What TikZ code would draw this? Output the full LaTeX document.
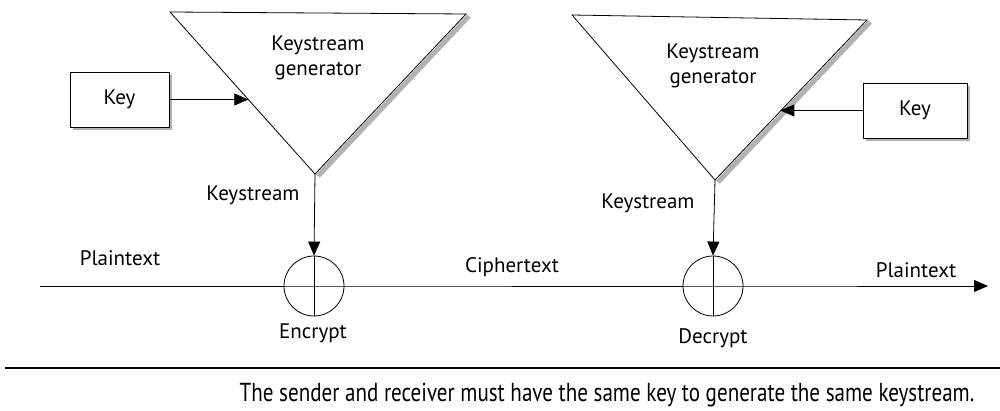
\documentclass[tikz,border=0pt]{standalone}
\usepackage{fontspec}
\setmainfont{PT Sans}
\usetikzlibrary{arrows.meta,calc}

\begin{document}
\begin{tikzpicture}[x=0.5pt,y=-0.5pt,font=\fontsize{10.5}{12.5}\selectfont,
    >={Triangle[length=7pt,width=6pt]}]
  \useasboundingbox (0,0) rectangle (1000,411);
  % sender side
  \coordinate (gl1) at (170,12);
  \coordinate (gr1) at (466,14);
  \coordinate (ga1) at (315,174);
  \draw[gray!60,line width=2.5pt] ($(gr1)+(3,2)$) -- ($(ga1)+(3,2)$);
  \draw (gl1) -- (gr1) -- (ga1) -- cycle;
  \node[align=center] (gen1) at (318,58) {Keystream\\generator};
  \fill[gray!60] (73,127) rectangle (172,130);
  \fill[gray!60] (169,75) rectangle (172,130);
  \node[draw,fill=white,minimum width=49.5pt,minimum height=27.5pt] (key1) at (119.5,99.5) {Key};
  \coordinate (e1) at ($(gl1)!0.54!(ga1)$);
  \draw[->] (key1.east) -- (key1.east -| e1);
  \node[draw,circle,minimum size=30pt,inner sep=0pt] (enc) at (314,286) {};
  \draw[->] (ga1) -- (enc.north);
  \node (ks1) at (253,195) {Keystream};
  \node (enclab) at (313,333) {Encrypt};
  % receiver side
  \coordinate (gl2) at (572,15);
  \coordinate (gr2) at (867,20);
  \coordinate (ga2) at (715,180);
  \draw[gray!60,line width=2.5pt] ($(gr2)+(3,2)$) -- ($(ga2)+(3,2)$);
  \draw (gl2) -- (gr2) -- (ga2) -- cycle;
  \node[align=center] (gen2) at (713,66) {Keystream\\generator};
  \fill[gray!60] (866,138) rectangle (970,141);
  \fill[gray!60] (967,86) rectangle (970,141);
  \node[draw,fill=white,minimum width=52pt,minimum height=27.5pt] (key2) at (915,110.5) {Key};
  \coordinate (e2) at ($(gr2)!0.57!(ga2)$);
  \draw[->] (key2.west) -- (key2.west -| e2);
  \node[draw,circle,minimum size=30pt,inner sep=0pt] (dec) at (713,286) {};
  \draw[->] (ga2) -- (dec.north);
  \node (ks2) at (648,203) {Keystream};
  \node (declab) at (713,338) {Decrypt};
  % data line
  \coordinate (start) at (40,286);
  \coordinate (stop) at (988,286);
  \draw (start) -- (enc.west);
  \draw (enc.north) -- (enc.south);
  \draw (enc.west) -- (enc.east) -- (dec.west);
  \draw (dec.north) -- (dec.south);
  \draw[->] (dec.west) -- (dec.east) -- (stop);
  \node (pt1) at (120,258) {Plaintext};
  \node (ct) at (512,267) {Ciphertext};
  \node (pt2) at (916,270) {Plaintext};
  % caption
  \coordinate (rl) at (5,368);
  \coordinate (rr) at (1000,368);
  \draw[line width=1.2pt] (rl) -- (rr);
  \node[font=\fontsize{13}{15}\selectfont] (cap) at (607,395) {\scalebox{0.81}[1]{The sender and receiver must have the same key to generate the same keystream.}};
\end{tikzpicture}
\end{document}
